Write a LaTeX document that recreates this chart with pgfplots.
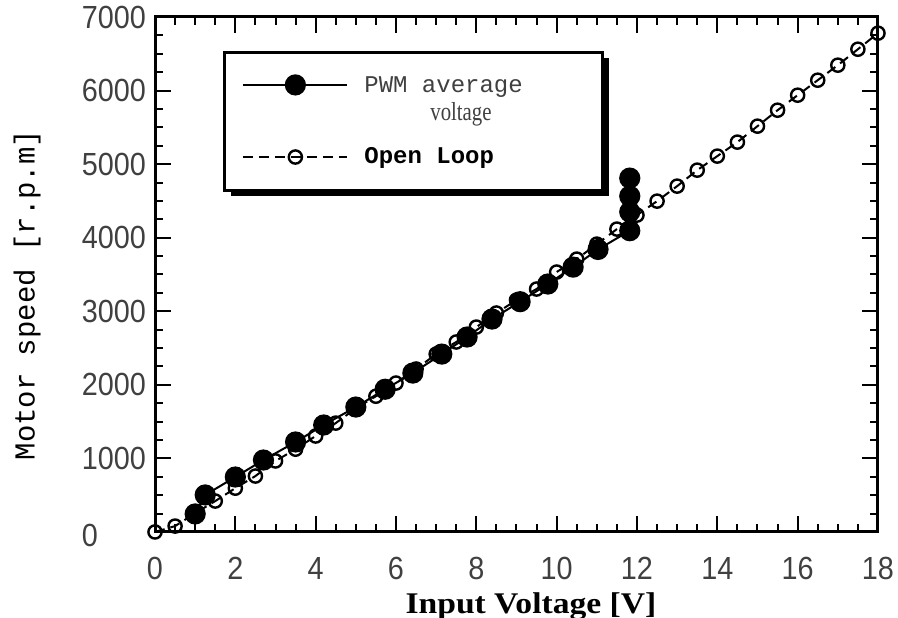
\documentclass[border=0pt]{standalone}
\usepackage{fontspec}
\setmainfont{Liberation Mono}
\newfontfamily\serfont{Liberation Serif}
\newfontfamily\tickfont[FakeStretch=0.9]{Liberation Sans}
\usepackage{pgfplots}
\pgfplotsset{compat=1.18}
\begin{document}
\begin{tikzpicture}
\begin{axis}[
  scale only axis,
  width=361.5pt, height=257.5pt,
  xmin=0, xmax=18, ymin=0, ymax=7000,
  xtick={0,2,...,18}, ytick={0,1000,...,7000},
  yticklabels={\raisebox{-4pt}{0}\phantom{000},1000,2000,3000,4000,5000,6000,7000},
  minor tick num=3,
  tick align=inside,
  major tick length=8pt, minor tick length=4pt,
  axis line style={line width=1.5pt},
  every tick/.style={black, line width=1pt},
  /pgf/number format/assume math mode=true,
  scaled y ticks=false,
  yticklabel style={font=\tickfont\fontsize{16}{16}\selectfont, text=black!75, xshift=-1pt},
  xticklabel style={font=\tickfont\fontsize{16}{16}\selectfont, text=black!75, yshift=-9pt},
  xlabel={\scalebox{1.12}[1]{\serfont\bfseries\fontsize{15}{15}\selectfont Input Voltage [V]}},
  xlabel style={at={(rel axis cs:0.52,-0.145)}, anchor=center},
  ylabel={\fontsize{14.5}{14.5}\selectfont Motor speed [r.p.m]},
  ylabel style={at={(rel axis cs:-0.177,0.46)}, anchor=center},
  legend style={at={(rel axis cs:0.112,0.905)}, anchor=north west, draw=none, fill=none,
    row sep=22pt, font=\fontsize{12}{13}\selectfont},
  legend cell align=left,
  legend image code/.code={\draw[#1, mark repeat=2, mark phase=2] plot coordinates {(0pt,0pt) (26pt,0pt) (52pt,0pt)};},
]
\fill[black] (rel axis cs:0.1051,0.6524) rectangle (rel axis cs:0.6279,0.9203);
\draw[line width=1.5pt, fill=white] (rel axis cs:0.0968,0.664) rectangle (rel axis cs:0.6196,0.932);
\addplot[black, line width=1pt, mark=*, mark size=4.8pt, mark options={solid, fill=black}] coordinates {
(1.0,245) (1.25,503) (2.0,747) (2.7,978) (3.5,1223) (4.2,1454) (5.0,1698) (5.73,1940)
(6.42,2160) (7.14,2418) (7.77,2650) (8.39,2894) (9.09,3130) (9.78,3370) (10.41,3600)
(11.03,3840) (11.82,4095) (11.82,4350) (11.82,4565) (11.82,4810)};
\addlegendentry{\hspace*{6pt}\begin{tabular}[t]{@{}l@{}}\textcolor{black!75}{PWM average}\\[1pt]\hspace*{33pt}\scalebox{0.8}[1]{\serfont\fontsize{13}{13}\selectfont\textcolor{black!75}{voltage}}\end{tabular}}
\addplot[black, line width=1pt, dash pattern=on 5pt off 3pt, mark=o, mark size=3.3pt, mark options={solid, fill=white, line width=1.2pt}] coordinates {
(0,0) (0.5,80) (1,255) (1.5,420) (2,595) (2.5,760) (3,965) (3.5,1125) (4,1304) (4.5,1480)
(5,1680) (5.5,1845) (6,2024) (6.5,2215) (7,2418) (7.5,2582) (8,2785) (8.5,2976) (9,3152)
(9.5,3302) (10,3533) (10.5,3709) (11,3913) (11.5,4117) (12,4307) (12.5,4497) (13,4701)
(13.5,4918) (14,5109) (14.5,5299) (15,5516) (15.5,5733) (16,5937) (16.5,6141) (17,6345)
(17.5,6562) (18,6780)};
\addlegendentry{\hspace*{6pt}\textbf{Open Loop}}
\coordinate (bl) at (rel axis cs:-0.2144,-0.167);
\coordinate (tr) at (rel axis cs:1.0277,1.033);
\end{axis}
\pgfresetboundingbox
\path[use as bounding box] (bl) rectangle (tr);
\end{tikzpicture}
\end{document}
